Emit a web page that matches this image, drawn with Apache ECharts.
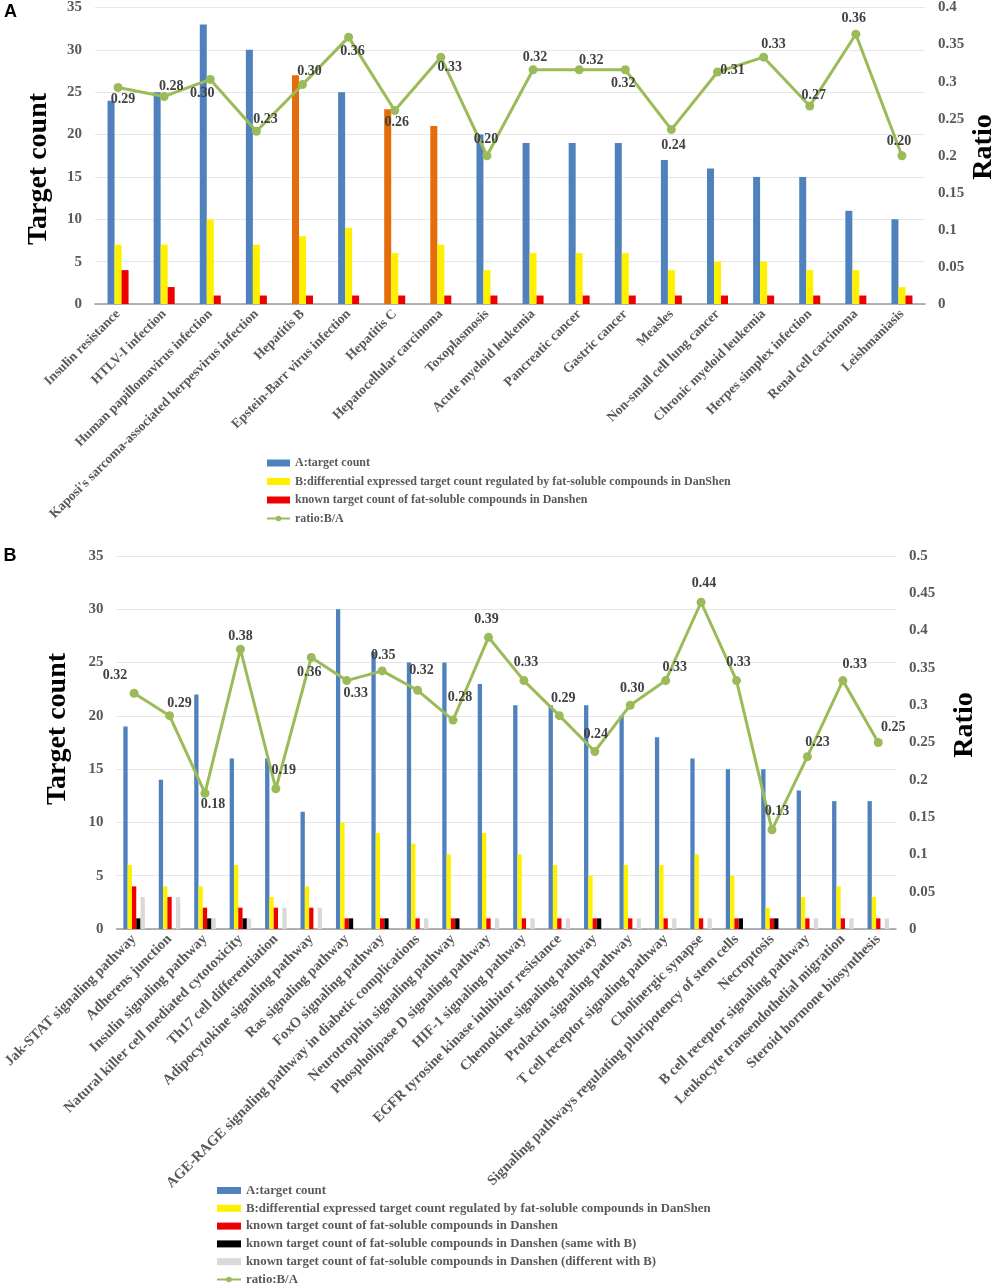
<!DOCTYPE html>
<html><head><meta charset="utf-8">
<script src="https://cdn.jsdelivr.net/npm/echarts@6/dist/echarts.min.js"></script>
<style>html,body{margin:0;padding:0;background:#fff;overflow:hidden}#c{width:996px;height:1283px}</style>
</head><body><div id="c"></div>
<script>
// ---------- Panel A data ----------
const catsA = ['Insulin resistance','HTLV-I infection','Human papillomavirus infection','Kaposi\'s sarcoma-associated herpesvirus infection','Hepatitis B','Epstein-Barr virus infection','Hepatitis C','Hepatocellular carcinoma','Toxoplasmosis','Acute myeloid leukemia','Pancreatic cancer','Gastric cancer','Measles','Non-small cell lung cancer','Chronic myeloid leukemia','Herpes simplex infection','Renal cell carcinoma','Leishmaniasis'];
const targetA = [24,25,33,30,27,25,23,21,20,19,19,19,17,16,15,15,11,10];
const diffA   = [7,7,10,7,8,9,6,7,4,6,6,6,4,5,5,4,4,2];
const knownA  = [4,2,1,1,1,1,1,1,1,1,1,1,1,1,1,1,1,1];
const ratioA  = [0.292,0.28,0.303,0.233,0.296,0.36,0.261,0.333,0.2,0.316,0.316,0.316,0.2353,0.313,0.333,0.267,0.364,0.2];
const orangeA = ['Hepatitis B','Hepatitis C','Hepatocellular carcinoma'];

// ---------- Panel B data ----------
const catsB = ['Jak-STAT signaling pathway','Adherens junction','Insulin signaling pathway','Natural killer cell mediated cytotoxicity','Th17 cell differentiation','Adipocytokine signaling pathway','Ras signaling pathway','FoxO signaling pathway','AGE-RAGE signaling pathway in diabetic complications','Neurotrophin signaling pathway','Phospholipase D signaling pathway','HIF-1 signaling pathway','EGFR tyrosine kinase inhibitor resistance','Chemokine signaling pathway','Prolactin signaling pathway','T cell receptor signaling pathway','Cholinergic synapse','Signaling pathways regulating pluripotency of stem cells','Necroptosis','B cell receptor signaling pathway','Leukocyte transendothelial migration','Steroid hormone biosynthesis'];
const targetB = [19,14,22,16,16,11,30,26,25,25,23,21,21,21,20,18,16,15,15,13,12,12];
const diffB   = [6,4,4,6,3,4,10,9,8,7,9,7,6,5,6,6,7,5,2,3,4,3];
const knownB  = [4,3,2,2,2,2,1,1,1,1,1,1,1,1,1,1,1,1,1,1,1,1];
const sameB   = [1,0,1,1,0,0,1,1,0,1,0,0,0,1,0,0,0,1,1,0,0,0];
const differB = [3,3,1,1,2,2,0,0,1,0,1,1,1,0,1,1,1,0,0,1,1,1];
const ratioB  = [0.316,0.286,0.182,0.375,0.188,0.364,0.333,0.346,0.32,0.28,0.391,0.333,0.286,0.238,0.30,0.333,0.438,0.333,0.133,0.231,0.333,0.25];

// axis ranges / tick settings
const countAxis = {min:0, max:35, interval:5};
const ratioAxisA = {min:0, max:0.4, interval:0.05};
const ratioAxisB = {min:0, max:0.5, interval:0.05};

// series names
const N_A = 'A:target count';
const N_B = 'B:differential expressed target count regulated by fat-soluble compounds in DanShen';
const N_K = 'known target count of fat-soluble compounds in Danshen';
const N_S = 'known target count of fat-soluble compounds in Danshen (same with B)';
const N_D = 'known target count of fat-soluble compounds in Danshen (different with B)';
const N_R = 'ratio:B/A';

// label placement (style) for ratio labels: [dx, dy] from point
const lblOffA = [[5,12],[7,-10],[-8,14],[9,-12],[7,-13],[4,14],[2,12],[9,10],[-1,-16],[2,-12],[12,-9],[-2,14],[2,16],[15,-2],[10,-13],[4,-11],[-2,-16],[-3,-14]];
const lblOffB = [[-19,-18],[10,-12],[8,11],[0,-13],[8,-18],[-2,15],[9,13],[1,-15],[4,-20],[7,-23],[-2,-18],[2,-18],[4,-17],[1,-17],[2,-17],[9,-13],[3,-19],[2,-18],[5,-18],[10,-14],[12,-16],[15,-15]];

const SERIF = '"Liberation Serif","Times New Roman",serif';
const C = {blue:'#4F81BD', yellow:'#FFF000', red:'#EE0000', orange:'#E46C0A', black:'#000000', gray:'#D9D9D9', green:'#9BBB59'};

const chart = echarts.init(document.getElementById('c'), null, {renderer:'canvas'});

function catAxis(cats, gi, fs){
  return {type:'category', gridIndex:gi, data:cats, boundaryGap:true,
    axisLine:{lineStyle:{color:'#9a9a9a', width:1.5}}, axisTick:{show:false},
    axisLabel:{interval:0, rotate:45, margin:8, fontFamily:SERIF, fontWeight:'bold', fontSize:fs, color:'#595959'}};
}
function valAxis(gi, cfg, pos, showSplit){
  return {type:'value', gridIndex:gi, position:pos, min:cfg.min, max:cfg.max, interval:cfg.interval,
    axisLine:{show:false}, axisTick:{show:false},
    splitLine:{show:showSplit, lineStyle:{color:'#e6e6e6', width:1}},
    axisLabel:{margin:13, fontFamily:SERIF, fontWeight:'bold', fontSize:15, color:'#595959'}};
}
function ratioSeries(vals, offs, xi, yi){
  return {name:N_R, type:'line', xAxisIndex:xi, yAxisIndex:yi, z:5,
    data: vals.map((v,i)=>({value:v, label:{offset:offs[i]}})),
    symbol:'circle', symbolSize:9, lineStyle:{color:C.green, width:3}, itemStyle:{color:C.green},
    label:{show:true, position:'inside', formatter:p=>p.value.toFixed(2), fontFamily:SERIF, fontWeight:'bold', fontSize:14, color:'#404040'}};
}
function bar(name, data, color, xi, yi, w){
  return {name, type:'bar', xAxisIndex:xi, yAxisIndex:yi, data, barWidth:w, barGap:'0%', itemStyle:{color}};
}

const legendText = (fs, lh)=>({fontFamily:SERIF, fontWeight:'bold', fontSize:fs, color:'#595959', lineHeight:lh});

const option = {
  backgroundColor:'#fff',
  animation:false,
  grid:[
    {left:95, top:7, width:830, height:297},
    {left:116, top:556, width:780, height:373}
  ],
  xAxis:[catAxis(catsA,0,13.5), catAxis(catsB,1,14.5)],
  yAxis:[valAxis(0,countAxis,'left',true), valAxis(0,ratioAxisA,'right',false),
         valAxis(1,countAxis,'left',true), valAxis(1,ratioAxisB,'right',false)],
  legend:[
    {orient:'vertical', left:266, top:456, height:90, padding:0, itemWidth:23, itemHeight:7, itemGap:4.5, textStyle:legendText(12,14),
     data:[{name:N_A, icon:'rect'},{name:N_B, icon:'rect'},{name:N_K, icon:'rect'},{name:N_R}]},
    {orient:'vertical', left:216, top:1184, height:110, padding:0, itemWidth:24, itemHeight:7, itemGap:4.8, textStyle:legendText(12.8,12),
     data:[{name:N_A, icon:'rect'},{name:N_B, icon:'rect'},{name:N_K, icon:'rect'},{name:N_S, icon:'rect'},{name:N_D, icon:'rect'},{name:N_R}]}
  ],
  series:[
    bar(N_A, targetA.map((v,i)=> orangeA.includes(catsA[i]) ? {value:v, itemStyle:{color:C.orange}} : v), C.blue, 0, 0, 7),
    bar(N_B, diffA, C.yellow, 0, 0, 7),
    bar(N_K, knownA, C.red, 0, 0, 7),
    ratioSeries(ratioA, lblOffA, 0, 1),
    bar(N_A, targetB, C.blue, 1, 2, 4.3),
    bar(N_B, diffB, C.yellow, 1, 2, 4.3),
    bar(N_K, knownB, C.red, 1, 2, 4.3),
    bar(N_S, sameB, C.black, 1, 2, 4.3),
    bar(N_D, differB, C.gray, 1, 2, 4.3),
    ratioSeries(ratioB, lblOffB, 1, 3)
  ],
  graphic:[
    {type:'text', x:10.5, y:12, style:{text:'A', font:'bold 18px "Liberation Sans",Arial,sans-serif', fill:'#000', align:'center', verticalAlign:'middle'}},
    {type:'text', x:10, y:556, style:{text:'B', font:'bold 18px "Liberation Sans",Arial,sans-serif', fill:'#000', align:'center', verticalAlign:'middle'}},
    {type:'text', x:39, y:169, rotation:Math.PI/2, style:{text:'Target count', font:'bold 28px '+SERIF, fill:'#000', align:'center', verticalAlign:'middle'}},
    {type:'text', x:984, y:147, rotation:Math.PI/2, style:{text:'Ratio', font:'bold 28px '+SERIF, fill:'#000', align:'center', verticalAlign:'middle'}},
    {type:'text', x:58, y:729, rotation:Math.PI/2, style:{text:'Target count', font:'bold 28px '+SERIF, fill:'#000', align:'center', verticalAlign:'middle'}},
    {type:'text', x:965, y:725, rotation:Math.PI/2, style:{text:'Ratio', font:'bold 28px '+SERIF, fill:'#000', align:'center', verticalAlign:'middle'}}
  ]
};
chart.setOption(option);
</script></body></html>
